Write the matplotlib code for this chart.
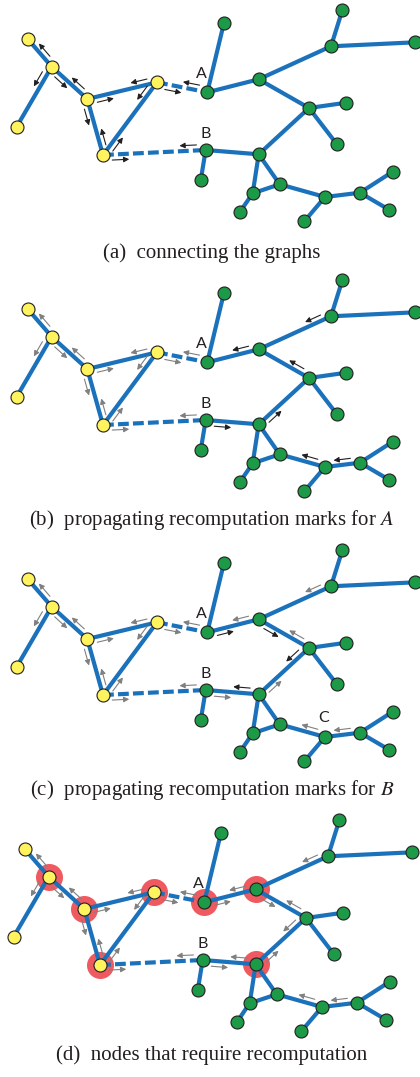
import matplotlib
matplotlib.use("Agg")
import matplotlib.pyplot as plt
import numpy as np

plt.rcParams['mathtext.fontset'] = 'stix'

# ---- graph data (pixel coordinates of panel (a)) ----
yellow_nodes = {
    'Y1': (27.7, 39.0), 'Y2': (51.7, 66.7), 'Y3': (16.7, 126.7),
    'Y4': (87.3, 99.0), 'Y5': (157.0, 82.3), 'Y6': (103.0, 155.0),
}
green_nodes = {
    'A': (207.3, 92.3), 'At': (224.0, 22.7), 'G2': (258.7, 79.3),
    'G3': (331.0, 46.3), 'G3t': (342.3, 10.3), 'G3r': (415.3, 42.3),
    'G4': (309.0, 108.0), 'G4r': (346.3, 102.7), 'G4d': (336.7, 144.0),
    'B': (205.7, 150.0), 'Bd': (200.7, 180.3), 'G5': (258.7, 154.3),
    'G6': (279.7, 184.3), 'G7': (252.7, 193.3), 'G7d': (239.7, 212.3),
    'G8': (325.0, 197.0), 'G8d': (304.3, 221.3), 'G9': (360.0, 192.7),
    'G9u': (392.7, 171.7), 'G9d': (389.0, 209.7),
}
solid_edges = [('Y1', 'Y2'), ('Y2', 'Y3'), ('Y2', 'Y4'), ('Y4', 'Y5'), ('Y4', 'Y6'),
               ('Y5', 'Y6'),
               ('A', 'At'), ('A', 'G2'), ('G2', 'G3'), ('G3', 'G3t'), ('G3', 'G3r'),
               ('G2', 'G4'), ('G4', 'G4r'), ('G4', 'G4d'), ('G4', 'G5'), ('B', 'Bd'),
               ('B', 'G5'), ('G5', 'G7'), ('G5', 'G6'), ('G6', 'G7'), ('G7', 'G7d'),
               ('G6', 'G8'), ('G8', 'G8d'), ('G8', 'G9'), ('G9', 'G9u'), ('G9', 'G9d')]
dashed_edges = [('Y5', 'A'), ('Y6', 'B')]

yellow_marks = [('Y2', 'Y1'), ('Y2', 'Y3'), ('Y2', 'Y4'), ('Y4', 'Y2'), ('Y4', 'Y5'),
                ('Y5', 'Y4'), ('Y4', 'Y6'), ('Y6', 'Y4'), ('Y5', 'Y6'), ('Y6', 'Y5'),
                ('Y5', 'A'), ('A', 'Y5'), ('Y6', 'B'), ('B', 'Y6')]
marks_A = [('G3', 'G2'), ('G2', 'A'), ('G4', 'G2'), ('G5', 'G4'), ('B', 'G5'),
           ('G8', 'G6'), ('G9', 'G8')]
marks_B = [('A', 'G2'), ('G2', 'G4'), ('G4', 'G5'), ('G5', 'B')]
recompute_nodes = ['Y2', 'Y4', 'Y5', 'Y6', 'A', 'G2', 'G5']

captions = ['(a)  connecting the graphs',
            '(b)  propagating recomputation marks for $A$',
            '(c)  propagating recomputation marks for $B$',
            '(d)  nodes that require recomputation']
panel_offsets = [(0, 0), (0, 270), (0, 540), (-3, 810)]
caption_y = [253, 520, 790, 1055]

# ---- styles ----
EDGE = '#1b72bb'
YEL = '#fff35e'
GRN = '#1d9a47'
HALO = '#ef5a60'
BLACK = '#231f20'
GRAY = '#808080'

fig = plt.figure(figsize=(4.2, 10.77), dpi=100)
ax = fig.add_axes([0, 0, 1, 1])
ax.set_xlim(0, 420)
ax.set_ylim(1077, 0)
ax.axis('off')

pos_all = {**yellow_nodes, **green_nodes}


def P(name, off):
    x, y = pos_all[name]
    return np.array([x + off[0], y + off[1]])


def draw_mark(u, v, off, color):
    p, q = P(u, off), P(v, off)
    d = q - p
    d = d / np.hypot(*d)
    n = np.array([-d[1], d[0]])
    s = p + d * 9 + n * 5.5
    e = p + d * 26 + n * 5.5
    ax.annotate('', xy=e, xytext=s,
                arrowprops=dict(arrowstyle='-|>', lw=0.8, color=color,
                                mutation_scale=8, shrinkA=0, shrinkB=0),
                zorder=4)


for k, off in enumerate(panel_offsets):
    # halos
    if k == 3:
        hp = np.array([P(n, off) for n in recompute_nodes])
        ax.scatter(hp[:, 0], hp[:, 1], s=(27 * 0.72) ** 2, color=HALO, lw=0, zorder=1)
    for u, v in solid_edges:
        p, q = P(u, off), P(v, off)
        ax.plot([p[0], q[0]], [p[1], q[1]], color=EDGE, lw=3.0,
                solid_capstyle='butt', zorder=2)
    for u, v in dashed_edges:
        p, q = P(u, off), P(v, off)
        ax.plot([p[0], q[0]], [p[1], q[1]], color=EDGE, lw=3.0,
                linestyle=(0, (2.6, 1.0)), dash_capstyle='butt', zorder=2)
    yp = np.array([P(n, off) for n in yellow_nodes])
    gp = np.array([P(n, off) for n in green_nodes])
    ax.scatter(yp[:, 0], yp[:, 1], s=(13 * 0.72) ** 2, color=YEL,
               edgecolor=BLACK, lw=0.8, zorder=3)
    ax.scatter(gp[:, 0], gp[:, 1], s=(13 * 0.72) ** 2, color=GRN,
               edgecolor=BLACK, lw=0.8, zorder=3)

    # recomputation marks
    ycol = BLACK if k == 0 else GRAY
    for u, v in yellow_marks:
        draw_mark(u, v, off, ycol)
    if k >= 1:
        for u, v in marks_A:
            draw_mark(u, v, off, BLACK if k == 1 else GRAY)
    if k >= 2:
        for u, v in marks_B:
            draw_mark(u, v, off, BLACK if k == 2 else GRAY)

    # labels
    a = P('A', off)
    b = P('B', off)
    ax.text(a[0] - 5.6, a[1] - 18, 'A', fontsize=11.5, family='Lato',
            color=BLACK, ha='center', va='center', zorder=5)
    ax.text(b[0] - 0.4, b[1] - 16, 'B', fontsize=11.5, family='Lato',
            color=BLACK, ha='center', va='center', zorder=5)
    if k == 2:
        c = P('G8', off)
        ax.text(c[0] - 1.7, c[1] - 19, 'C', fontsize=11.5, family='Lato',
                color=BLACK, ha='center', va='center', zorder=5)

    ax.text(212, caption_y[k], captions[k], fontsize=15, family='Liberation Serif',
            color=BLACK, ha='center', va='center')

fig.savefig('out.png', dpi=100)
